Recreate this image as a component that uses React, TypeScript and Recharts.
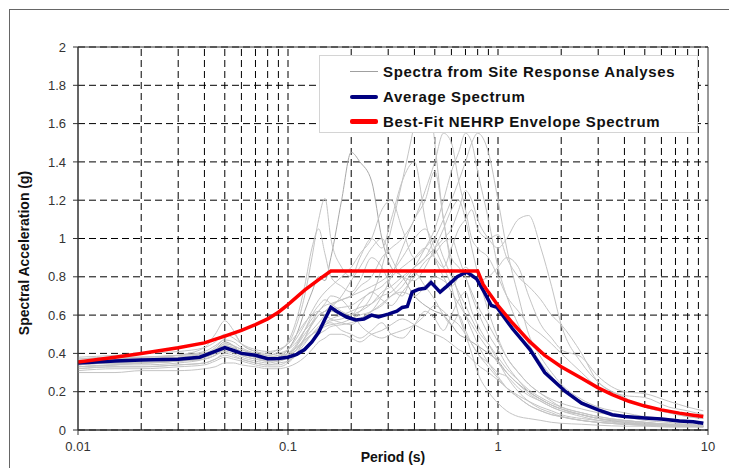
import { LineChart, Line, XAxis, YAxis, CartesianGrid, ReferenceLine, ReferenceArea, Legend, Label } from 'recharts'

// periods (s) shared by the site response spectra
const periods = [
  0.01, 0.015, 0.02, 0.03, 0.04, 0.045, 0.05, 0.055, 0.06, 0.07,
  0.08, 0.09, 0.1, 0.11, 0.12, 0.13, 0.14, 0.15, 0.16, 0.18,
  0.2, 0.22, 0.25, 0.28, 0.31, 0.35, 0.4, 0.45, 0.5, 0.55,
  0.6, 0.65, 0.7, 0.75, 0.8, 0.9, 1, 1.1, 1.25, 1.4,
  1.6, 1.8, 2, 2.5, 3, 4, 5, 6.5, 8, 9.5,
]

// spectra from site response analyses (g)
const site1 = [0.34,0.35,0.35,0.36,0.38,0.42,0.46,0.44,0.40,0.38,0.37,0.38,0.42,0.50,0.62,0.72,0.80,0.78,0.90,1.20,1.45,1.40,1.30,1.00,0.85,0.80,0.70,0.65,0.62,0.60,0.55,0.50,0.48,0.46,0.44,0.40,0.36,0.30,0.24,0.20,0.16,0.13,0.11,0.08,0.06,0.04,0.03,0.025,0.02,0.02]
const site2 = [0.36,0.37,0.37,0.38,0.40,0.43,0.48,0.50,0.45,0.41,0.39,0.41,0.46,0.58,0.75,0.95,1.05,0.92,0.80,0.75,0.72,0.78,0.90,0.85,0.75,0.70,0.82,0.75,0.68,0.60,0.55,0.60,0.52,0.45,0.40,0.35,0.30,0.28,0.22,0.18,0.15,0.12,0.10,0.07,0.05,0.035,0.03,0.025,0.02,0.02]
const site3 = [0.33,0.34,0.34,0.35,0.37,0.39,0.41,0.40,0.38,0.36,0.35,0.36,0.38,0.42,0.48,0.52,0.56,0.60,0.62,0.60,0.58,0.62,0.70,0.85,1.05,1.30,1.60,1.90,1.50,1.10,0.90,0.85,0.80,0.70,0.62,0.50,0.42,0.34,0.26,0.20,0.16,0.13,0.11,0.08,0.06,0.05,0.04,0.03,0.025,0.02]
const site4 = [0.32,0.33,0.33,0.34,0.35,0.37,0.39,0.38,0.37,0.35,0.34,0.35,0.36,0.39,0.43,0.47,0.50,0.52,0.54,0.55,0.56,0.58,0.62,0.65,0.70,0.75,0.85,0.95,1.05,1.20,1.35,1.45,1.55,1.50,1.35,1.10,0.85,0.70,0.55,0.45,0.35,0.28,0.22,0.15,0.10,0.07,0.05,0.04,0.03,0.03]
const site5 = [0.35,0.36,0.36,0.37,0.38,0.40,0.42,0.41,0.39,0.37,0.36,0.37,0.39,0.42,0.46,0.50,0.54,0.56,0.58,0.60,0.62,0.64,0.66,0.70,0.72,0.78,0.85,0.90,0.95,1.00,1.05,1.15,1.25,1.20,1.10,1.00,0.95,1.00,1.10,1.12,0.95,0.75,0.55,0.35,0.25,0.17,0.12,0.09,0.07,0.06]
const site6 = [0.37,0.38,0.38,0.39,0.41,0.44,0.47,0.46,0.43,0.40,0.38,0.39,0.42,0.48,0.55,0.62,0.68,0.72,0.75,0.80,0.85,0.92,1.00,1.15,1.20,1.05,0.90,0.95,1.00,0.90,0.80,0.72,0.65,0.58,0.52,0.45,0.38,0.32,0.26,0.21,0.17,0.14,0.12,0.09,0.07,0.05,0.04,0.03,0.03,0.02]
const site7 = [0.30,0.30,0.31,0.31,0.32,0.33,0.35,0.35,0.34,0.33,0.32,0.32,0.33,0.35,0.38,0.42,0.46,0.48,0.50,0.50,0.48,0.46,0.50,0.52,0.55,0.58,0.55,0.52,0.50,0.48,0.45,0.42,0.40,0.37,0.34,0.30,0.26,0.22,0.18,0.15,0.12,0.10,0.08,0.06,0.05,0.04,0.03,0.025,0.02,0.02]
const site8 = [0.36,0.37,0.37,0.38,0.39,0.41,0.44,0.43,0.41,0.39,0.38,0.39,0.40,0.44,0.50,0.55,0.60,0.62,0.65,0.68,0.70,0.75,0.80,0.90,0.95,1.00,1.10,1.25,1.40,1.55,1.50,1.30,1.15,1.00,0.95,0.90,0.80,0.70,0.62,0.55,0.50,0.45,0.40,0.30,0.22,0.16,0.12,0.09,0.07,0.06]
const site9 = [0.35,0.36,0.37,0.39,0.43,0.50,0.57,0.52,0.45,0.41,0.40,0.42,0.45,0.50,0.56,0.60,0.62,0.60,0.58,0.56,0.55,0.58,0.62,0.70,0.80,0.95,1.10,1.20,1.35,1.10,0.85,0.70,0.60,0.52,0.45,0.35,0.28,0.22,0.17,0.13,0.10,0.08,0.07,0.05,0.04,0.03,0.025,0.02,0.02,0.02]
const site10 = [0.34,0.35,0.35,0.36,0.37,0.39,0.42,0.41,0.39,0.37,0.36,0.37,0.40,0.45,0.52,0.58,0.62,0.65,0.66,0.68,0.70,0.72,0.75,0.78,0.82,0.90,1.00,1.05,0.95,0.85,0.75,0.60,0.50,0.40,0.30,0.20,0.14,0.10,0.07,0.06,0.05,0.04,0.035,0.03,0.025,0.02,0.02,0.015,0.015,0.015]
const site11 = [0.36,0.37,0.38,0.39,0.40,0.42,0.45,0.44,0.42,0.40,0.39,0.40,0.42,0.46,0.52,0.56,0.60,0.62,0.63,0.64,0.65,0.68,0.72,0.75,0.80,0.85,0.90,0.95,0.90,0.85,0.95,1.05,1.10,1.15,1.05,1.00,1.02,0.90,0.80,0.75,0.68,0.60,0.55,0.40,0.25,0.18,0.17,0.12,0.10,0.08]
const site12 = [0.33,0.34,0.35,0.36,0.38,0.40,0.43,0.42,0.40,0.38,0.37,0.38,0.40,0.43,0.47,0.50,0.53,0.55,0.57,0.58,0.60,0.62,0.66,0.72,0.75,0.80,0.85,0.90,1.00,1.10,1.20,1.30,1.40,1.50,1.55,1.45,1.20,0.95,0.70,0.50,0.38,0.30,0.24,0.16,0.12,0.09,0.07,0.06,0.05,0.04]
const site13 = [0.31,0.32,0.32,0.33,0.34,0.36,0.38,0.37,0.36,0.34,0.33,0.33,0.35,0.40,0.48,0.56,0.62,0.66,0.70,0.68,0.62,0.55,0.50,0.48,0.50,0.52,0.55,0.60,0.65,0.62,0.58,0.55,0.50,0.45,0.40,0.33,0.27,0.22,0.17,0.13,0.10,0.08,0.07,0.05,0.04,0.03,0.025,0.02,0.02,0.02]
const site14 = [0.38,0.39,0.40,0.41,0.43,0.46,0.50,0.48,0.45,0.42,0.41,0.42,0.45,0.55,0.70,0.90,1.10,1.21,1.00,0.85,0.80,0.90,1.00,0.95,1.10,1.30,1.40,1.10,0.90,0.80,0.72,0.66,0.60,0.55,0.50,0.42,0.35,0.30,0.24,0.19,0.15,0.12,0.10,0.08,0.06,0.045,0.035,0.03,0.025,0.02]
const site15 = [0.32,0.33,0.33,0.34,0.35,0.37,0.40,0.39,0.37,0.35,0.34,0.34,0.36,0.40,0.45,0.50,0.52,0.55,0.56,0.52,0.50,0.48,0.52,0.56,0.50,0.48,0.55,0.62,0.58,0.52,0.60,0.68,0.72,0.62,0.55,0.45,0.36,0.28,0.20,0.15,0.11,0.09,0.07,0.05,0.04,0.03,0.025,0.02,0.02,0.015]
const site16 = [0.37,0.38,0.38,0.39,0.40,0.42,0.44,0.43,0.41,0.39,0.38,0.38,0.40,0.43,0.47,0.50,0.52,0.54,0.55,0.56,0.58,0.60,0.62,0.66,0.70,0.72,0.70,0.75,0.80,0.78,0.75,0.80,0.85,0.82,0.78,0.80,0.85,0.90,0.85,0.70,0.55,0.48,0.42,0.38,0.28,0.20,0.19,0.15,0.12,0.10]
const site17 = [0.35,0.35,0.36,0.37,0.38,0.41,0.45,0.44,0.42,0.39,0.37,0.37,0.39,0.44,0.52,0.60,0.65,0.68,0.66,0.62,0.60,0.66,0.72,0.68,0.65,0.72,0.80,0.88,0.92,0.98,1.00,0.90,0.80,0.72,0.65,0.55,0.46,0.38,0.30,0.24,0.19,0.15,0.12,0.09,0.07,0.05,0.04,0.03,0.03,0.02]
const site18 = [0.33,0.34,0.35,0.36,0.37,0.39,0.42,0.42,0.40,0.38,0.36,0.36,0.38,0.42,0.48,0.55,0.60,0.62,0.64,0.70,0.78,0.85,0.95,1.00,0.90,0.80,0.78,0.85,0.95,1.05,1.15,1.20,1.10,0.95,0.82,0.62,0.48,0.38,0.30,0.24,0.19,0.16,0.14,0.11,0.09,0.07,0.06,0.05,0.04,0.04]

const siteSpectra = [site1, site2, site3, site4, site5, site6, site7, site8, site9, site10, site11, site12, site13, site14, site15, site16, site17, site18]

// average spectrum
const avgPeriods = [0.01,0.015,0.02,0.03,0.038,0.045,0.05,0.055,0.06,0.07,0.08,0.09,0.1,0.11,0.12,0.13,0.14,0.15,0.16,0.17,0.19,0.21,0.23,0.25,0.27,0.3,0.33,0.35,0.37,0.39,0.42,0.45,0.48,0.5,0.53,0.57,0.64,0.71,0.79,0.86,0.93,0.99,1.05,1.17,1.3,1.42,1.67,2.1,2.5,3,3.5,4,5,6,7.3,8.5,9.5]
const avgValues = [0.35,0.36,0.365,0.37,0.38,0.41,0.43,0.415,0.40,0.39,0.372,0.373,0.38,0.395,0.42,0.46,0.51,0.58,0.64,0.62,0.59,0.575,0.58,0.60,0.59,0.605,0.62,0.64,0.645,0.72,0.735,0.74,0.77,0.75,0.72,0.75,0.80,0.825,0.79,0.72,0.65,0.64,0.60,0.53,0.47,0.42,0.30,0.20,0.14,0.105,0.08,0.07,0.063,0.058,0.047,0.043,0.035]

// best-fit NEHRP envelope
const envPeriods = [0.01,0.015,0.02,0.03,0.04,0.05,0.06,0.07,0.08,0.09,0.1,0.12,0.14,0.16,0.8,0.85,0.9,1,1.17,1.42,1.67,2,2.5,3,3.5,4.2,5,6,7.3,8.5,9.5]
const envValues = [0.355,0.38,0.40,0.43,0.455,0.49,0.52,0.55,0.58,0.615,0.655,0.73,0.785,0.83,0.83,0.76,0.72,0.65,0.56,0.46,0.39,0.33,0.27,0.22,0.185,0.15,0.125,0.105,0.088,0.077,0.07]

const xTicks = [0.01, 0.1, 1, 10]
const yTicks = [0, 0.2, 0.4, 0.6, 0.8, 1, 1.2, 1.4, 1.6, 1.8, 2]
const gridX = [0.02,0.03,0.04,0.05,0.06,0.07,0.08,0.09,0.1,0.2,0.3,0.4,0.5,0.6,0.7,0.8,0.9,1,2,3,4,5,6,7,8,9]

const legendItems = [
  { label: 'Spectra from Site Response Analyses', color: '#a0a0a0', width: 1 },
  { label: 'Average Spectrum', color: '#000080', width: 4 },
  { label: 'Best-Fit NEHRP Envelope Spectrum', color: '#ff0000', width: 5 },
]

const siteData = periods.map((T, i) => {
  const row: Record<string, number> = { T }
  siteSpectra.forEach((s, k) => { row['s' + k] = s[i] })
  return row
})
const avgData = avgPeriods.map((T, i) => ({ T, avg: avgValues[i] }))
const envData = envPeriods.map((T, i) => ({ T, env: envValues[i] }))

const FONT = '"Liberation Sans", Arial, sans-serif'

function ChartLegend() {
  return (
    <div style={{
      width: 379, height: 78, boxSizing: 'border-box', background: '#fff',
      border: '1px solid #d4d4d4', paddingTop: 3, fontFamily: FONT,
    }}>
      {legendItems.map(it => (
        <div key={it.label} style={{ height: 25, display: 'flex', alignItems: 'center' }}>
          <div style={{ marginLeft: 30, width: 28, height: it.width, background: it.color, borderRadius: it.width > 2 ? 2 : 0 }} />
          <span style={{ marginLeft: 5, fontSize: 15, fontWeight: 'bold', color: '#111', letterSpacing: 0.65 }}>{it.label}</span>
        </div>
      ))}
    </div>
  )
}

function YTitle() {
  return (
    <text x={14} y={243} transform="rotate(-90 14 243)" textAnchor="middle" dominantBaseline="central"
      style={{ fontWeight: 'bold', fontSize: 14, fill: '#111', fontFamily: FONT }}>
      Spectral Acceleration (g)
    </text>
  )
}

export default function App() {
  return (
    <div style={{
      position: 'absolute', left: 9, top: 9, width: 720, height: 459, boxSizing: 'border-box',
      borderTop: '1px solid #666', borderLeft: '1px solid #666', overflow: 'hidden', background: '#fff',
    }}>
      <LineChart width={719} height={458} margin={{ top: 37, right: 21, bottom: 0, left: 8 }}
        style={{ fontFamily: FONT }}>
        <CartesianGrid vertical={false} stroke="#000" strokeDasharray="7 4" />
        {gridX.map(v => (
          <ReferenceLine key={v} x={v} stroke="#000" strokeDasharray="7 4" />
        ))}
        <XAxis dataKey="T" type="number" scale="log" domain={[0.01, 10]} ticks={xTicks}
          allowDataOverflow allowDuplicatedCategory={false}
          tickFormatter={(v) => String(v)} tickSize={5} tickMargin={7} height={38}
          tick={{ fill: '#333', fontSize: 13 }} axisLine={{ stroke: '#333' }} tickLine={{ stroke: '#333' }}>
          <Label value="Period (s)" position="insideBottom" offset={6}
            style={{ fontWeight: 'bold', fontSize: 14, fill: '#111' }} />
        </XAxis>
        <YAxis type="number" domain={[0, 2]} ticks={yTicks} width={60}
          tickSize={5} tickMargin={7}
          tick={{ fill: '#333', fontSize: 13 }} axisLine={{ stroke: '#333' }} tickLine={{ stroke: '#333' }}>
          <Label content={() => <YTitle />} />
        </YAxis>
        {siteSpectra.map((_, k) => (
          <Line key={k} data={siteData} dataKey={'s' + k} stroke={k === 0 ? '#a8a8a8' : '#c4c4c4'}
            strokeWidth={1} dot={false} type="monotone" isAnimationActive={false} legendType="none" />
        ))}
        <Line data={avgData} dataKey="avg" stroke="#000080" strokeWidth={3.5} dot={false}
          type="linear" isAnimationActive={false} />
        <Line data={envData} dataKey="env" stroke="#ff0000" strokeWidth={3.5} dot={false}
          type="linear" isAnimationActive={false} />
        <ReferenceArea x1={0.01} x2={10} y1={0} y2={2} fill="none" stroke="#333" strokeWidth={1} />
        <Legend layout="vertical" align="center" verticalAlign="middle"
          wrapperStyle={{ left: 309, top: 45, width: 379, height: 78 }}
          content={() => <ChartLegend />} />
      </LineChart>
    </div>
  )
}
